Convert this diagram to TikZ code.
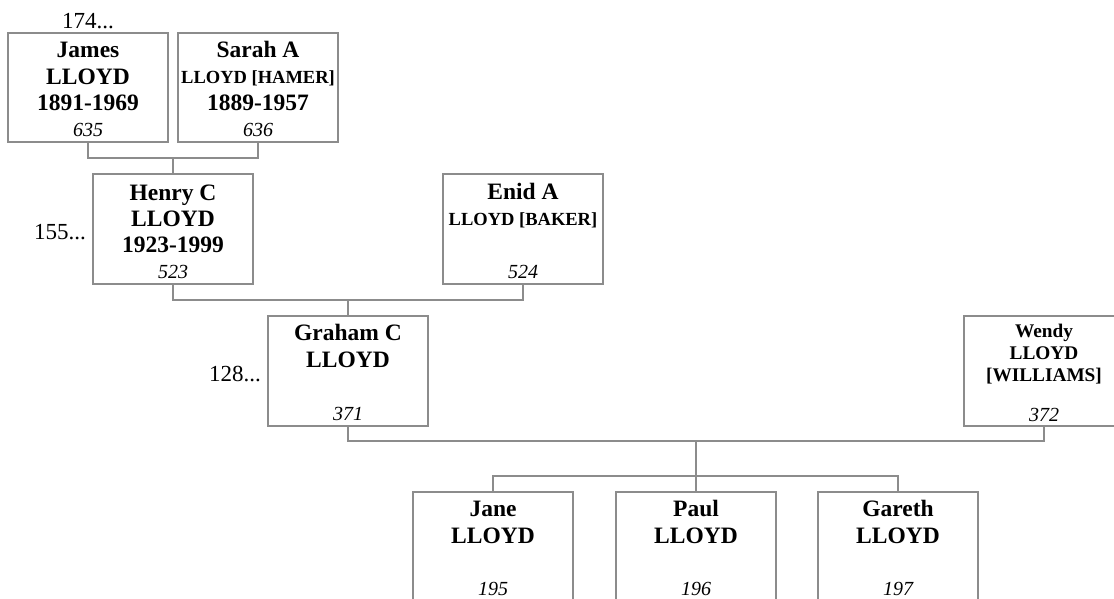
\documentclass[tikz,border=0pt]{standalone}
\usepackage{fontspec}
\setmainfont{Liberation Serif}
\definecolor{linec}{RGB}{140,140,140}
\begin{document}
\begin{tikzpicture}[x=1pt,y=-1pt,
  box/.style={draw=linec, line width=1.2pt, minimum width=160pt, minimum height=110pt, inner sep=0pt},
  nm/.style={font=\fontsize{23.5}{26}\selectfont\bfseries, anchor=base, inner sep=0pt},
  sm/.style={font=\fontsize{18.5}{20}\selectfont\bfseries, anchor=base, inner sep=0pt},
  wd/.style={font=\fontsize{19.3}{21}\selectfont\bfseries, anchor=base, inner sep=0pt},
  num/.style={font=\fontsize{20}{22}\selectfont\itshape, anchor=base, inner sep=0pt},
  side/.style={font=\fontsize{23}{25}\selectfont, inner sep=0pt},
  conn/.style={draw=linec, line width=1.2pt}]
\useasboundingbox (0,0) rectangle (1114,598);
\clip (0,0) rectangle (1114,598);

% boxes
\node[box, minimum height=109pt] (james) at (88,87.5) {};
\node[box, minimum height=109pt] (sarah) at (258,87.5) {};
\node[box] (henry) at (173,229) {};
\node[box] (enid) at (523,229) {};
\node[box] (graham) at (348,371) {};
\node[box] (wendy) at (1044,371) {};
\node[box] (jane) at (493,547) {};
\node[box] (paul) at (696,547) {};
\node[box] (gareth) at (898,547) {};

% side labels
\node[side, anchor=base] (s174) at (88,28) {174...};
\node[side, anchor=base east] (s155) at (86,239) {155...};
\node[side, anchor=base east] (s128) at (261,381) {128...};

% James
\node[nm] (j1) at (88,57) {James};
\node[nm] (j2) at (88,84) {LLOYD};
\node[nm] (j3) at (88,110) {1891-1969};
\node[num] (j4) at (88,136) {635};
% Sarah
\node[nm] (sa1) at (258,57) {Sarah A};
\node[sm] (sa2) at (258,83) {LLOYD [HAMER]};
\node[nm] (sa3) at (258,110) {1889-1957};
\node[num] (sa4) at (258,136) {636};
% Henry
\node[nm] (h1) at (173,200) {Henry C};
\node[nm] (h2) at (173,226) {LLOYD};
\node[nm] (h3) at (173,252) {1923-1999};
\node[num] (h4) at (173,278) {523};
% Enid
\node[nm] (e1) at (523,199) {Enid A};
\node[sm] (e2) at (523,225) {LLOYD [BAKER]};
\node[num] (e4) at (523,278) {524};
% Graham
\node[nm] (g1) at (348,340) {Graham C};
\node[nm] (g2) at (348,367) {LLOYD};
\node[num] (g4) at (348,420) {371};
% Wendy
\node[wd] (w1) at (1044,337) {Wendy};
\node[wd] (w2) at (1044,359) {LLOYD};
\node[wd] (w3) at (1044,381) {[WILLIAMS]};
\node[num] (w4) at (1044,421) {372};
% children
\node[nm] (ja1) at (493,516) {Jane};
\node[nm] (ja2) at (493,543) {LLOYD};
\node[num] (ja4) at (493,595) {195};
\node[nm] (p1) at (696,516) {Paul};
\node[nm] (p2) at (696,543) {LLOYD};
\node[num] (p4) at (696,595) {196};
\node[nm] (ga1) at (898,516) {Gareth};
\node[nm] (ga2) at (898,543) {LLOYD};
\node[num] (ga4) at (898,595) {197};

% connectors
\coordinate (c1) at (173,158);
\coordinate (c2) at (348,300);
\coordinate (c3) at (696,441);
\coordinate (c4) at (696,476);
\draw[conn] (james.south) |- (c1) -| (sarah.south);
\draw[conn] (c1) -- (henry.north);
\draw[conn] (henry.south) |- (c2) -| (enid.south);
\draw[conn] (c2) -- (graham.north);
\draw[conn] (graham.south) |- (c3) -| (wendy.south);
\draw[conn] (c3) -- (c4);
\draw[conn] (jane.north) |- (c4) -| (gareth.north);
\draw[conn] (c4) -- (paul.north);
\end{tikzpicture}
\end{document}
